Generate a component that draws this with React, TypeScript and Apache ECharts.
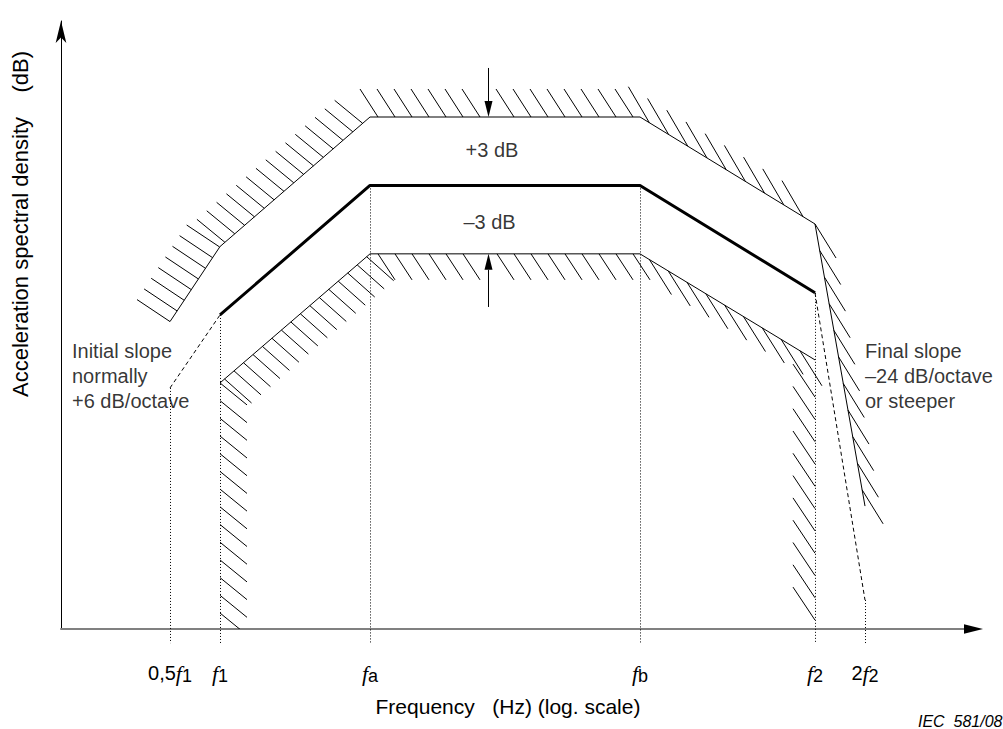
import React, { useEffect, useRef } from 'react';
import * as echarts from 'echarts';

// x: position on the log-frequency axis, in octaves relative to f1
// y: level in dB relative to the nominal (reference) spectrum
const freqPos = [-1, 0, 3, 8.4, 11.9, 12.9];
const freqPrefix = ['0,5', '', '', '', '', '2'];
const freqSub = ['1', '1', 'a', 'b', '2', '2'];

const nominalX = [0, 3, 8.4, 11.9];
const nominalY = [-5.68, 0, 0, -4.71];

const initialSlopeX = [-1, 0];
const initialSlopeY = [-8.88, -5.68];
const finalSlopeX = [11.9, 12.9];
const finalSlopeY = [-4.71, -18.18];

const upperX = [-1, 0, 3, 8.4, 11.9, 12.9];
const upperY = [-5.97, -2.68, 3, 3, -1.69, -14.06];

const lowerX = [0, 0, 3, 8.4, 11.9, 11.9];
const lowerY = [-19.45, -8.66, -3, -3, -7.65, -19.06];

const xRange = [-3.18, 14.88];
const yRange = [-19.45, 7.21];
const guideBottom = -20.07;

const arrowX = 5.37;
const upperArrowY = [5.15, 3];
const lowerArrowY = [-5.33, -3];
const axisArrowTipX = 15.26;

const bandNotes = ['+3 dB', '–3 dB'];
const bandNoteX = [5.44, 5.39];
const bandNoteY = [1.55, -1.6];

const slopeNotes = ['Initial slope\nnormally\n+6 dB/octave', 'Final slope\n–24 dB/octave\nor steeper'];
const slopeNoteX = [-2.96, 12.9];
const slopeNoteY = [-8.36, -8.36];

// ---- styles (pixel-space hatch geometry) ----
type Hatch = { vec: number[]; step: number; off: number; fromEnd?: boolean; trim?: number };
const HATCH: Hatch[][] = [
  [
    { vec: [-33, -22], step: 12.8, off: 0 },
    { vec: [-28, -23], step: 13, off: 6.5 },
    { vec: [-18, -28], step: 17, off: 8 },
    { vec: [-21, -36], step: 22.5, off: 11 },
    { vec: [21, 34], step: 27, off: 0 },
  ],
  [
    { vec: [27, 22], step: 17.7, off: 0, fromEnd: true },
    { vec: [27, 24], step: 12.5, off: 6 },
    { vec: [17, 26], step: 17, off: 8 },
    { vec: [22, 35], step: 22, off: 11 },
    { vec: [-22, -33], step: 22.3, off: 0, fromEnd: true, trim: 20 },
  ],
];
const FONT = 'Liberation Sans, Arial, Helvetica, sans-serif';

const pts = (xs: number[], ys: number[]) => xs.map((x, i) => [x, ys[i]]);

export default function App() {
  const ref = useRef<HTMLDivElement>(null);
  useEffect(() => {
    if (!ref.current) return;
    const chart = echarts.init(ref.current, undefined, { renderer: 'svg' });

    const upperPts = pts(upperX, upperY);
    const lowerPts = pts(lowerX, lowerY);
    const hatchSegments: number[][] = [];
    [upperPts, lowerPts].forEach((arr, side) => {
      for (let i = 0; i < arr.length - 1; i++) {
        hatchSegments.push([arr[i][0], arr[i][1], arr[i + 1][0], arr[i + 1][1], side, i]);
      }
    });

    const guideTop = [initialSlopeY[0], ...nominalY, finalSlopeY[1]];
    const guideData = freqPos.map((x, i) => ({ coords: [[x, guideTop[i]], [x, guideBottom]] }));

    const arrowData = [
      [arrowX, upperArrowY[0], arrowX, upperArrowY[1], 0],
      [arrowX, lowerArrowY[0], arrowX, lowerArrowY[1], 0],
      [xRange[1], yRange[0], axisArrowTipX, yRange[0], 1],
    ];

    const option: any = {
      animation: false,
      textStyle: { fontFamily: FONT },
      grid: { left: 61, right: 39, top: 21, bottom: 100, containLabel: false, outerBoundsMode: 'none' },
      graphic: [
        {
          type: 'text',
          left: 918,
          top: 713,
          style: { text: 'IEC  581/08', fontSize: 16, fontStyle: 'italic', fontFamily: FONT, fill: '#000' },
        },
      ],
      xAxis: {
        type: 'value',
        min: xRange[0],
        max: xRange[1],
        name: 'Frequency   (Hz) (log. scale)',
        nameLocation: 'middle',
        nameGap: 67,
        nameTextStyle: { fontSize: 21, color: '#000', padding: [0, 9, 0, 0] },
        axisLine: { show: true, onZero: false, lineStyle: { color: '#808080', width: 2 } },
        axisTick: { show: false },
        splitLine: { show: false },
        axisLabel: {
          show: true,
          customValues: freqPos,
          margin: 32,
          color: '#000',
          formatter: (v: number) => {
            const i = freqPos.findIndex((p) => Math.abs(p - v) < 1e-6);
            if (i < 0) return '';
            return (freqPrefix[i] ? `{n|${freqPrefix[i]}}` : '') + `{f|f}{s|${freqSub[i]}}`;
          },
          rich: {
            n: { fontSize: 20, fontFamily: FONT, color: '#000', lineHeight: 24 },
            f: { fontSize: 22, fontFamily: 'Liberation Serif, Times New Roman, serif', fontStyle: 'italic', color: '#000', lineHeight: 24 },
            s: { fontSize: 18, fontFamily: FONT, color: '#000', lineHeight: 24, padding: [5, 0, 0, 0] },
          },
        },
      },
      yAxis: {
        type: 'value',
        min: yRange[0],
        max: yRange[1],
        name: 'Acceleration spectral density    (dB)',
        nameLocation: 'middle',
        nameGap: 30,
        nameTextStyle: { fontSize: 22, color: '#000', padding: [0, 0, 0, 202] },
        axisLine: {
          show: true,
          onZero: false,
          symbol: ['none', 'arrow'],
          symbolSize: [8, 22],
          lineStyle: { color: '#000', width: 1 },
        },
        axisTick: { show: false },
        axisLabel: { show: false },
        splitLine: { show: false },
      },
      series: [
        {
          type: 'lines',
          coordinateSystem: 'cartesian2d',
          clip: false,
          silent: true,
          z: 1,
          lineStyle: { color: '#000', width: 1, type: [1, 2], opacity: 1 },
          data: guideData,
        },
        {
          type: 'lines',
          coordinateSystem: 'cartesian2d',
          silent: true,
          z: 2,
          lineStyle: { color: '#000', width: 1, type: [4, 3], opacity: 1 },
          data: [
            { coords: pts(initialSlopeX, initialSlopeY) },
            { coords: pts(finalSlopeX, finalSlopeY) },
          ],
        },
        {
          type: 'line',
          silent: true,
          z: 3,
          symbol: 'none',
          lineStyle: { color: '#000', width: 1 },
          data: upperPts,
        },
        {
          type: 'line',
          silent: true,
          z: 3,
          symbol: 'none',
          lineStyle: { color: '#000', width: 1 },
          data: lowerPts.slice(1, 5),
        },
        {
          type: 'line',
          silent: true,
          z: 4,
          symbol: 'none',
          lineStyle: { color: '#000', width: 3 },
          data: pts(nominalX, nominalY),
        },
        {
          type: 'custom',
          silent: true,
          clip: true,
          z: 3,
          data: hatchSegments,
          renderItem: (params: any, api: any) => {
            const p = api.coord([api.value(0), api.value(1)]);
            const q = api.coord([api.value(2), api.value(3)]);
            const spec = HATCH[api.value(4)][api.value(5)];
            const skipX = api.coord([arrowX, 0])[0];
            const dx = q[0] - p[0];
            const dy = q[1] - p[1];
            const L = Math.hypot(dx, dy);
            const ux = dx / L;
            const uy = dy / L;
            const children: any[] = [];
            for (let t = spec.off; t <= L - (spec.trim || 0) + 0.01; t += spec.step) {
              const a = spec.fromEnd ? [q[0] - ux * t, q[1] - uy * t] : [p[0] + ux * t, p[1] + uy * t];
              const b = [a[0] + spec.vec[0], a[1] + spec.vec[1]];
              const lo = Math.min(a[0], b[0]);
              const hi = Math.max(a[0], b[0]);
              if (Math.abs(dy) < 1 && skipX > lo - 1 && skipX < hi + 1) continue;
              children.push({
                type: 'line',
                shape: { x1: a[0], y1: a[1], x2: b[0], y2: b[1] },
                style: { stroke: '#000', lineWidth: 1 },
              });
            }
            return { type: 'group', children };
          },
        },
        {
          type: 'custom',
          silent: true,
          clip: false,
          z: 5,
          data: arrowData,
          renderItem: (params: any, api: any) => {
            const p = api.coord([api.value(0), api.value(1)]);
            const q = api.coord([api.value(2), api.value(3)]);
            const kind = api.value(4);
            const len = kind === 1 ? 19 : 16;
            const hw = kind === 1 ? 4.7 : 4;
            const dx = q[0] - p[0];
            const dy = q[1] - p[1];
            const L = Math.hypot(dx, dy);
            const ux = dx / L;
            const uy = dy / L;
            const base = [q[0] - ux * len, q[1] - uy * len];
            const nx = -uy;
            const ny = ux;
            const children: any[] = [];
            if (kind === 0) {
              children.push({
                type: 'line',
                shape: { x1: p[0], y1: p[1], x2: base[0], y2: base[1] },
                style: { stroke: '#000', lineWidth: 1 },
              });
            }
            children.push({
              type: 'polygon',
              shape: {
                points: [
                  [q[0], q[1]],
                  [base[0] + nx * hw, base[1] + ny * hw],
                  [base[0] - nx * hw, base[1] - ny * hw],
                ],
              },
              style: { fill: '#000' },
            });
            return { type: 'group', children };
          },
        },
        {
          type: 'scatter',
          silent: true,
          z: 6,
          symbolSize: 1,
          itemStyle: { color: 'transparent' },
          label: {
            show: true,
            position: 'inside',
            formatter: '{b}',
            color: '#000',
            fontSize: 20,
            fontFamily: FONT,
          },
          data: bandNotes.map((t, i) => ({ name: t, value: [bandNoteX[i], bandNoteY[i]] })),
        },
        {
          type: 'scatter',
          silent: true,
          z: 6,
          symbolSize: 1,
          itemStyle: { color: 'transparent' },
          label: {
            show: true,
            position: 'inside',
            align: 'left',
            verticalAlign: 'middle',
            formatter: '{b}',
            color: '#000',
            fontSize: 20,
            lineHeight: 25,
            fontFamily: FONT,
          },
          data: slopeNotes.map((t, i) => ({ name: t, value: [slopeNoteX[i], slopeNoteY[i]] })),
        },
      ],
    };
    chart.setOption(option);
    return () => chart.dispose();
  }, []);
  return (
    <div
      ref={ref}
      style={{ position: 'absolute', left: 0, top: 0, width: 1003, height: 729, background: '#fff' }}
    />
  );
}
